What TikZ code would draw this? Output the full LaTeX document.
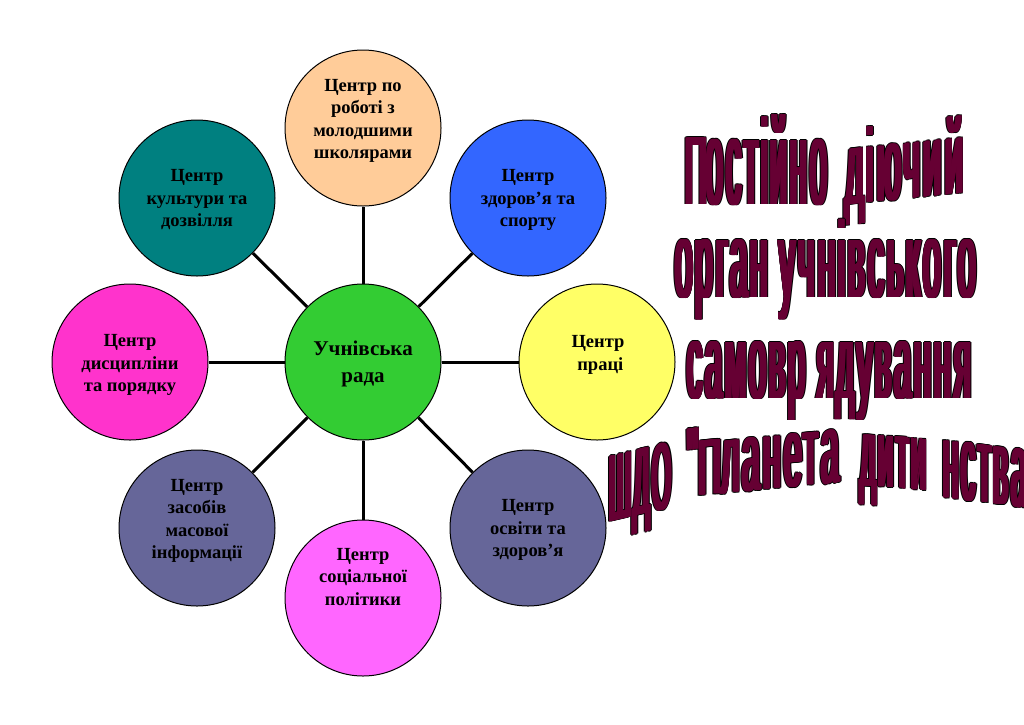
\documentclass[tikz,border=0pt]{standalone}
\usepackage{fontspec}
\usepackage{graphicx}
\setmainfont{Liberation Serif}
\newfontfamily\wafam{Liberation Sans}[LetterSpace=10]
\definecolor{wine}{HTML}{660033}
\definecolor{cpeach}{HTML}{FFCC99}
\definecolor{cblue}{HTML}{3366FF}
\definecolor{cteal}{HTML}{008080}
\definecolor{cmag}{HTML}{FF33CC}
\definecolor{cyel}{HTML}{FFFF66}
\definecolor{cslate}{HTML}{666699}
\definecolor{cpink}{HTML}{FF66FF}
\definecolor{cgreen}{HTML}{33CC33}
\newbox\wabox
\newdimen\wawd
\newdimen\waxh
\newcommand\wafont{\wafam\fontsize{10}{12}\selectfont}
\newcommand\capv[1]{\scalebox{1}[0.8]{#1}}
\newcommand\wacopy[3]{\rlap{\kern#2\raisebox{#3}{\color{#1}\copy\wabox}}}
\newcommand\wafit[3]{%
  \setbox\wabox\hbox{\wafont #3}%
  \wawd=\wd\wabox
  {\wafont\global\waxh=\fontdimen5\font}%
  \pgfmathsetmacro\wasx{(#1-4)/\wawd}%
  \pgfmathsetmacro\wasy{#2/\waxh}%
  \setbox\wabox\hbox{\scalebox{\wasx}[\wasy]{\wafont #3}}%
  \makebox[\wd\wabox][l]{%
    \wacopy{black}{-0.9pt}{0pt}\wacopy{black}{4.9pt}{0pt}%
    \wacopy{black}{0pt}{0.9pt}\wacopy{black}{1.3pt}{0.9pt}\wacopy{black}{2.6pt}{0.9pt}\wacopy{black}{4pt}{0.9pt}%
    \wacopy{black}{0pt}{-0.9pt}\wacopy{black}{1.3pt}{-0.9pt}\wacopy{black}{2.6pt}{-0.9pt}\wacopy{black}{4pt}{-0.9pt}%
    \wacopy{wine}{0pt}{0pt}\wacopy{wine}{1pt}{0pt}\wacopy{wine}{2pt}{0pt}\wacopy{wine}{3pt}{0pt}\wacopy{wine}{4pt}{0pt}}}
\newcommand\sq{\XeTeXglyph\XeTeXcharglyph"22\relax}
\tikzset{
  hub/.style={circle, draw=black, line width=1pt, minimum size=156pt, inner sep=0pt},
  ctext/.style={align=center, inner sep=0pt, font=\bfseries\fontsize{18.5}{22.5}\selectfont},
  mtext/.style={align=center, inner sep=0pt, font=\bfseries\fontsize{21}{27}\selectfont},
  link/.style={line width=3pt},
  wa/.style={inner sep=0pt, outer sep=0pt, anchor=base west}
}
\begin{document}
\begin{tikzpicture}[x=1pt, y=-1pt]
\fill[white] (0,0) rectangle (1024,724);
\useasboundingbox (0,0) rectangle (1024,724);
% circles
\node[hub, fill=cgreen]  (cc) at (363,362) {};
\node[hub, fill=cpeach]  (c1) at (363,128) {};
\node[hub, fill=cblue]   (c2) at (528,198) {};
\node[hub, fill=cyel]    (c3) at (597,362) {};
\node[hub, fill=cslate]  (c4) at (528,528) {};
\node[hub, fill=cpink]   (c5) at (363,598) {};
\node[hub, fill=cslate]  (c6) at (197,528) {};
\node[hub, fill=cmag]    (c7) at (130,362) {};
\node[hub, fill=cteal]   (c8) at (197,198) {};
% connectors
\foreach \k in {1,...,8} \draw[link] (cc) -- (c\k);
% texts
\node[mtext] (tc) at (363,364) {Учнівська\\рада};
\node[ctext] (t1) at (363,121) {Центр по\\роботі з\\молодшими\\школярами};
\node[ctext] (t2) at (528,200) {Центр\\здоров’я та\\спорту};
\node[ctext] (t3) at (598,355) {Центр\\\ праці};
\node[ctext] (t4) at (528,530) {Центр\\освіти та\\здоров’я};
\node[ctext] (t5) at (363,577) {Центр\\соціальної\\політики};
\node[ctext] (t6) at (197,521) {Центр\\засобів\\масової\\інформації};
\node[ctext] (t7) at (130,365) {Центр\\дисципліни\\та порядку};
\node[ctext] (t8) at (197,200) {Центр\\культури та\\дозвілля};
% word art
\node[wa] (w1a) at (683,204) {\wafit{146}{64}{\capv{П}остійно}};
\node[wa, yslant=0.1] (w1b) at (843,205) {\wafit{122}{55}{діючий}};
\node[wa] (w2) at (673,297) {\wafit{305}{57}{орган учнівського}};
\node[wa] (w3) at (685,398) {\wafit{288}{56}{самовр ядування}};
\node[wa, yslant=0.23] (w4a) at (607,522) {\wafit{66}{50}{ШДО}};
\node[wa, yslant=0.096] (w4b) at (685,497) {\wafit{156}{52}{\sq\capv{П}ланета}};
\node[wa, yslant=-0.077] (w4c) at (858,485) {\wafit{70}{51}{дити}};
\node[wa, yslant=-0.125] (w4d) at (941,497) {\wafit{88}{57}{нства}};
\end{tikzpicture}
\end{document}
